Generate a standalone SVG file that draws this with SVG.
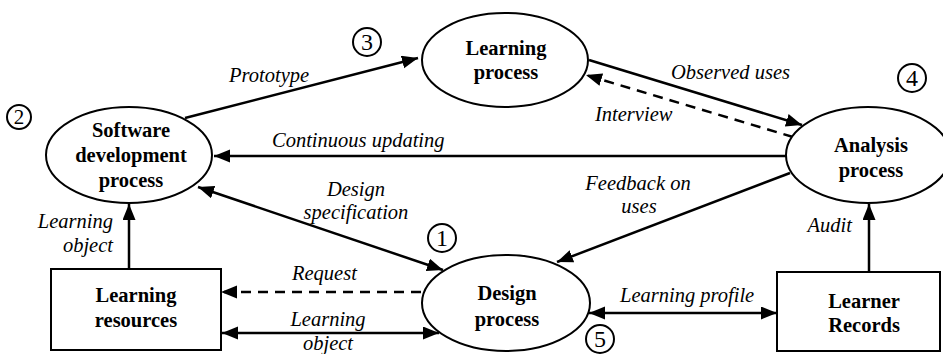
<svg xmlns="http://www.w3.org/2000/svg" width="943" height="354" viewBox="0 0 943 354">
<style>
text{font-family:"Liberation Serif","DejaVu Serif",serif}
.node{fill:#fff;stroke:#000;stroke-width:2}
.nl{font-weight:bold;font-size:20.5px;text-anchor:middle;fill:#000}
.el{font-style:italic;font-size:20.5px;fill:#000}
.c{fill:none;stroke:#000;stroke-width:2.5}
.d{stroke-dasharray:10 7}
.num{fill:none;stroke:#000;stroke-width:2}
.nt{font-size:24px;text-anchor:middle;fill:#000}
</style>
<defs>
<marker id="ah" markerUnits="userSpaceOnUse" markerWidth="18" markerHeight="14" refX="16" refY="6.5" orient="auto-start-reverse">
<path d="M0,0 L16,6.5 L0,13 z" fill="#000"/>
</marker>
</defs>
<rect width="943" height="354" fill="#fff"/>
<g id="connectors">
<line class="c" x1="185" y1="118" x2="418" y2="58" marker-end="url(#ah)"/>
<line class="c" x1="589" y1="60" x2="802" y2="125" marker-end="url(#ah)"/>
<line class="c d" x1="793" y1="137" x2="586" y2="75" marker-end="url(#ah)"/>
<line class="c" x1="786" y1="156" x2="214" y2="156" marker-end="url(#ah)"/>
<line class="c" x1="198" y1="187" x2="443" y2="270" marker-start="url(#ah)" marker-end="url(#ah)"/>
<line class="c" x1="790" y1="173" x2="557" y2="262" marker-end="url(#ah)"/>
<line class="c" x1="129" y1="269" x2="129" y2="204" marker-end="url(#ah)"/>
<line class="c d" x1="421" y1="292" x2="221" y2="292" marker-end="url(#ah)"/>
<line class="c" x1="222" y1="333" x2="439" y2="333" marker-start="url(#ah)" marker-end="url(#ah)"/>
<line class="c" x1="589" y1="313" x2="777" y2="313" marker-start="url(#ah)" marker-end="url(#ah)"/>
<line class="c" x1="869" y1="272" x2="869" y2="204" marker-end="url(#ah)"/>
<text class="el" x="229" y="82">Prototype</text>
<text class="el" x="671" y="79">Observed uses</text>
<text class="el" x="595" y="121">Interview</text>
<text class="el" x="272" y="147">Continuous updating</text>
<text class="el" x="356" y="196" text-anchor="middle">Design</text>
<text class="el" x="356" y="219" text-anchor="middle">specification</text>
<text class="el" x="638" y="190" text-anchor="middle">Feedback on</text>
<text class="el" x="639" y="213" text-anchor="middle">uses</text>
<text class="el" x="113" y="228" text-anchor="end">Learning</text>
<text class="el" x="113" y="252" text-anchor="end">object</text>
<text class="el" x="292" y="280">Request</text>
<text class="el" x="328" y="326" text-anchor="middle">Learning</text>
<text class="el" x="328" y="350" text-anchor="middle">object</text>
<text class="el" x="620" y="302">Learning profile</text>
<text class="el" x="852" y="232" text-anchor="end">Audit</text>
</g>
<g id="software">
<ellipse class="node" cx="129" cy="155" rx="83" ry="48"/>
<text class="nl" x="131" y="137">Software</text>
<text class="nl" x="131" y="162">development</text>
<text class="nl" x="131" y="187">process</text>
</g>
<g id="learning-process">
<ellipse class="node" cx="505" cy="60" rx="83" ry="47"/>
<text class="nl" x="506" y="55">Learning</text>
<text class="nl" x="506" y="79">process</text>
</g>
<g id="analysis">
<ellipse class="node" cx="868" cy="155" rx="82" ry="48"/>
<text class="nl" x="871" y="152">Analysis</text>
<text class="nl" x="871" y="177">process</text>
</g>
<g id="design">
<ellipse class="node" cx="506" cy="303" rx="84" ry="48"/>
<text class="nl" x="507" y="300">Design</text>
<text class="nl" x="507" y="326">process</text>
</g>
<g id="learning-resources">
<rect class="node" x="51" y="269" width="170" height="81"/>
<text class="nl" x="136" y="302">Learning</text>
<text class="nl" x="136" y="327">resources</text>
</g>
<g id="learner-records">
<rect class="node" x="777" y="272" width="163" height="79"/>
<text class="nl" x="864" y="308">Learner</text>
<text class="nl" x="864" y="332">Records</text>
</g>
<g id="n1"><circle class="num" cx="442" cy="238" r="14"/><text class="nt" x="442" y="246">1</text></g>
<g id="n2"><circle class="num" cx="19" cy="117" r="12"/><text class="nt" x="19" y="124" style="font-size:21px">2</text></g>
<g id="n3"><circle class="num" cx="367" cy="42" r="14"/><text class="nt" x="367" y="50">3</text></g>
<g id="n4"><circle class="num" cx="912" cy="78" r="14"/><text class="nt" x="912" y="86">4</text></g>
<g id="n5"><circle class="num" cx="600" cy="339" r="14"/><text class="nt" x="600" y="347">5</text></g>
</svg>
